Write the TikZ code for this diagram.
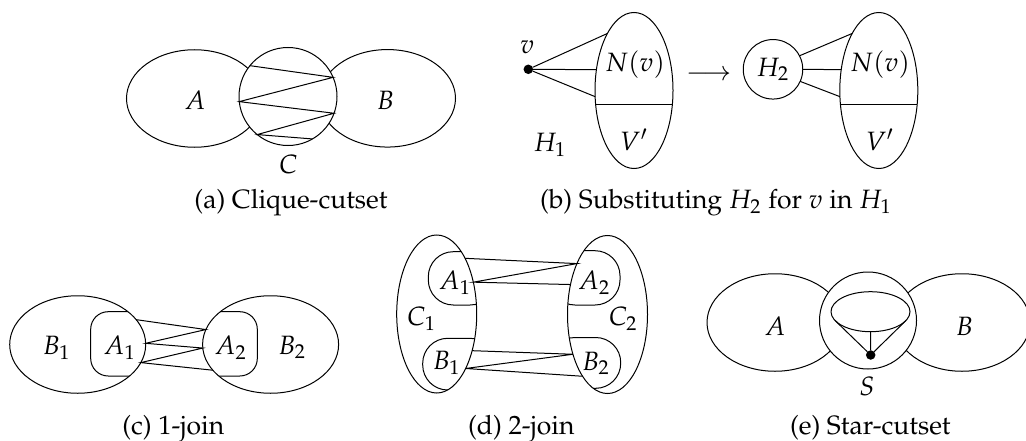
\documentclass[tikz,border=0pt]{standalone}
\usepackage[T1]{fontenc}
\usepackage{mathpazo}
\usepackage{tikz}
\usetikzlibrary{shapes.geometric}

\begin{document}
\fontsize{10.6}{12.7}\selectfont
\begin{tikzpicture}[
    x=0.4pt, y=-0.4pt,
    bigpart/.style={draw, ellipse, inner sep=0pt, outer sep=0pt, minimum width=54.4pt, minimum height=39pt},
    cutcirc/.style={draw, circle, fill=white, inner sep=0pt, outer sep=0pt, minimum size=38.8pt},
    nbhd/.style={draw, ellipse, inner sep=0pt, outer sep=0pt, minimum width=31.2pt, minimum height=62.4pt},
    joinside/.style={draw, ellipse, inner sep=0pt, outer sep=0pt, minimum width=32pt, minimum height=63.2pt},
    vdot/.style={circle, fill=black, inner sep=0pt, outer sep=0pt, minimum size=3.8pt},
    lab/.style={inner sep=0pt},
]
\useasboundingbox (0,0) rectangle (1026,440);

% (a)
\node[bigpart] (a-A) at (194.5,98.5) {};
\node[bigpart] (a-B) at (387.5,98.3) {};
\node[cutcirc, minimum size=39.2pt] (a-C) at (288,96.5) {};
\draw (a-C.141) -- (a-C.23) -- (a-C.186) -- (a-C.340) -- (a-C.231) -- (a-C.300);
\node[lab] (a-Alab) at (195,100.5) {$A$};
\node[lab] (a-Blab) at (385.5,100.5) {$B$};
\node[lab] (a-Clab) at (288.3,164.7) {$C$};
\node[lab] (a-cap) at (291,203) {(a) Clique-cutset};

% (b)
\node[vdot] (b-v) at (528.3,69.3) {};
\node[lab] (b-vlab) at (527.2,47.5) {$v$};
\node[nbhd] (b-N1) at (634,90.5) {};
\draw (b-N1.200.73) -- (b-N1.-20.73);
\draw (b-v) -- (b-N1.115.7);
\draw (b-v) -- (b-N1.151.5);
\draw (b-v) -- (b-N1.189);
\node[lab] (b-Nlab1) at (635,65) {$N(v)$};
\node[lab] (b-Vlab1) at (634,140) {$V'$};
\node[lab] (b-H1lab) at (550,145) {$H_1$};
\node[lab] (b-arr) at (708.7,75) {$\longrightarrow$};
\node[draw, circle, inner sep=0pt, outer sep=0pt, minimum size=23.8pt] (b-H2) at (773,69.3) {$H_2$};
\node[nbhd] (b-N2) at (878.8,90.5) {};
\draw (b-N2.200.73) -- (b-N2.-20.73);
\draw (b-H2.27) -- (b-N2.115.1);
\draw (b-H2.0) -- (b-N2.151.5);
\draw (b-H2.-24) -- (b-N2.189.6);
\node[lab] (b-Nlab2) at (880,65) {$N(v)$};
\node[lab] (b-Vlab2) at (880,140) {$V'$};
\node[lab] (b-cap) at (716,203) {(b) Substituting $H_2$ for $v$ in $H_1$};

% (c)
\node[bigpart] (c-B1) at (77.7,344.5) {};
\node[bigpart] (c-B2) at (270.6,344.5) {};
\begin{scope}
  \clip (c-B1.center) ellipse [x radius=27.2pt, y radius=19.5pt];
  \draw[rounded corners=7pt] (90.7,311.7) rectangle (180,376);
\end{scope}
\begin{scope}
  \clip (c-B2.center) ellipse [x radius=27.2pt, y radius=19.5pt];
  \draw[rounded corners=7pt] (180,311.7) rectangle (257.3,376);
\end{scope}
\draw (c-B1.23.4) -- (c-B2.167) -- (c-B1.1.5) -- (c-B2.183) -- (c-B1.-16.1) -- (c-B2.204.8);
\node[lab] (c-B1lab) at (56.7,347.5) {$B_1$};
\node[lab] (c-A1lab) at (119.7,347.5) {$A_1$};
\node[lab] (c-A2lab) at (230.8,347.5) {$A_2$};
\node[lab] (c-B2lab) at (292.2,347.5) {$B_2$};
\node[lab] (c-cap) at (173.3,428.5) {(c) 1-join};

% (d)
\node[joinside] (d-C1) at (436.7,314) {};
\node[joinside] (d-C2) at (607.5,314.5) {};
\begin{scope}
  \clip (d-C1.center) ellipse [x radius=16pt, y radius=31.6pt];
  \draw[rounded corners=10pt] (428.3,251.7) rectangle (495,305);
  \draw[rounded corners=10pt] (422.7,338.3) rectangle (495,390);
\end{scope}
\begin{scope}
  \clip (d-C2.center) ellipse [x radius=16pt, y radius=31.6pt];
  \draw[rounded corners=10pt] (550,250.7) rectangle (620,305);
  \draw[rounded corners=10pt] (550,337.5) rectangle (620.7,388.3);
\end{scope}
\draw (d-C1.63.7) -- (d-C2.121) -- (d-C1.41.4) -- (d-C2.141.8);
\draw (d-C1.-46.4) -- (d-C2.229.2) -- (d-C1.-62.5) -- (d-C2.248.3);
\node[lab] (d-A1lab) at (455,282.5) {$A_1$};
\node[lab] (d-B1lab) at (446.7,363.3) {$B_1$};
\node[lab] (d-C1lab) at (421.7,319) {$C_1$};
\node[lab] (d-A2lab) at (594.2,282.5) {$A_2$};
\node[lab] (d-B2lab) at (596,363.3) {$B_2$};
\node[lab] (d-C2lab) at (623.3,319) {$C_2$};
\node[lab] (d-cap) at (521.3,428.5) {(d) 2-join};

% (e)
\node[bigpart] (e-A) at (775,322.5) {};
\node[bigpart] (e-B) at (962,322.5) {};
\node[cutcirc] (e-S) at (868,320.5) {};
\node[draw, ellipse, inner sep=0pt, outer sep=0pt, minimum width=31.6pt, minimum height=16pt] (e-in) at (870.5,311.7) {};
\node[vdot] (e-c) at (870.7,355) {};
\draw (e-c) -- (e-in.194.8);
\draw (e-c) -- (e-in.south);
\draw (e-c) -- (e-in.-14.8);
\node[lab] (e-Alab) at (775,326.2) {$A$};
\node[lab] (e-Blab) at (964.5,326.2) {$B$};
\node[lab] (e-Slab) at (867,386.7) {$S$};
\node[lab] (e-cap) at (870.3,428) {(e) Star-cutset};
\end{tikzpicture}
\end{document}
